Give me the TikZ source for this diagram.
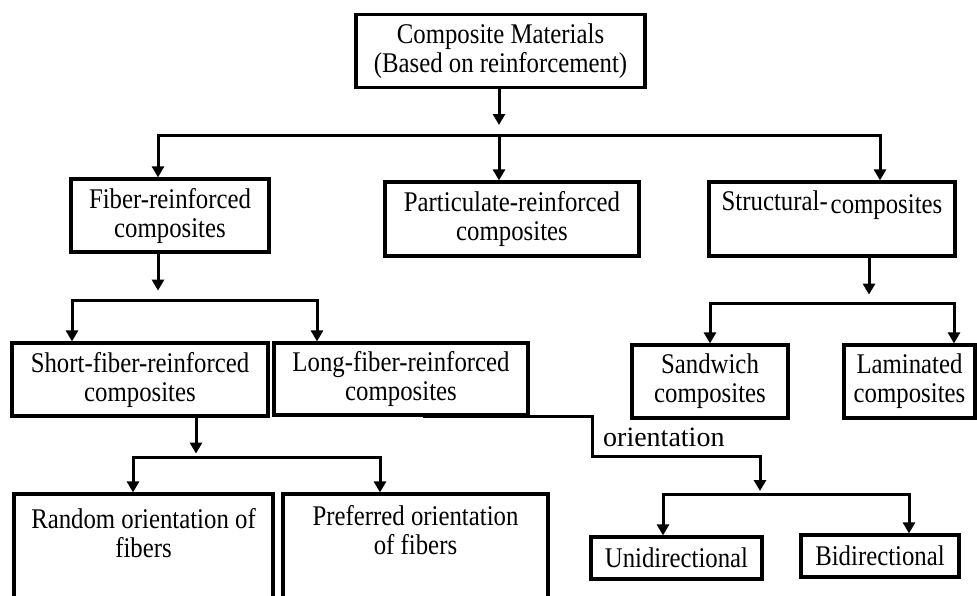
\documentclass[tikz,border=0pt]{standalone}
\usepackage{fontspec}
\setmainfont{Liberation Serif}
\newfontfamily\tallserif[FakeStretch=0.87]{Liberation Serif}
\usetikzlibrary{arrows.meta}
\begin{document}
\begin{tikzpicture}[x=1pt,y=-1pt,
  box/.style={draw=black, line width=3.2pt, rectangle, inner sep=0pt, align=center,
              font=\tallserif\fontsize{28.5}{29}\selectfont},
  conn/.style={line width=3pt, line join=miter},
  arr/.style={conn, -{Triangle[length=11pt,width=12pt]}},
  arrtwo/.style={conn, {Triangle[length=11pt,width=12pt]}-{Triangle[length=11pt,width=12pt]}},
  lbl/.style={inner sep=0pt, font=\fontsize{28}{30}\selectfont}
]
\useasboundingbox (0,0) rectangle (977,595);
\clip (0,0) rectangle (977,595);

% boxes
\node[box, minimum width=289pt, minimum height=73pt] (top) at (500.5,51)
  {Composite Materials\\(Based on reinforcement)};
\node[box, minimum width=198pt, minimum height=73pt] (fiber) at (170,215.5)
  {Fiber-reinforced\\composites};
\node[box, minimum width=254pt, minimum height=74pt] (partic) at (512,219)
  {Particulate-reinforced\\composites};
\node[box] (struct) at (832,219)
  {\parbox[c][74pt][t]{246pt}{\centering\vspace*{8.5pt}Structural-\hspace{3pt}\raisebox{-3pt}{composites}}};
\node[box, minimum width=256pt, minimum height=73pt] (short) at (140,379.5)
  {Short-fiber-reinforced\\composites};
\node[box, minimum width=254pt, minimum height=72pt] (long) at (401,379)
  {Long-fiber-reinforced\\composites};
\node[box, minimum width=156pt, minimum height=73pt] (sand) at (710,381.5)
  {Sandwich\\composites};
\node[box, minimum width=131pt, minimum height=73pt] (lam) at (909.5,381.5)
  {Laminated\\composites};
\node[box] (random) at (143.5,567)
  {\parbox[c][146pt][t]{259pt}{\centering\vspace*{14.5pt}Random orientation of\\fibers}};
\node[box] (pref) at (415.5,567)
  {\parbox[c][146pt][t]{265pt}{\centering\vspace*{11.5pt}Preferred orientation\\of fibers}};
\node[box, minimum width=171pt, minimum height=42pt] (uni) at (676.5,558) {Unidirectional};
\node[box, minimum width=158pt, minimum height=42pt] (bi) at (880,556) {Bidirectional};

\node[lbl, anchor=base west] (orient) at (603,446) {orientation};

% bus 1
\coordinate (b1l) at (158,135);
\coordinate (b1m) at (499,135);
\coordinate (b1r) at (880,135);
\draw[arr] (b1m |- top.south) -- (b1m |- 0,125);
\draw[arrtwo] (b1l |- fiber.north) -- (b1l) -- (b1r) -- (b1r |- struct.north);
\draw[arr] (b1m) -- (b1m |- partic.north);

% bus 2
\coordinate (b2l) at (72,300);
\coordinate (b2m) at (158,300);
\coordinate (b2r) at (317,300);
\draw[arr] (b2m |- fiber.south) -- ++(0,37);
\draw[arrtwo] (b2l |- short.north) -- (b2l) -- (b2r) -- (b2r |- long.north);

% bus 3
\coordinate (b3l) at (710,303);
\coordinate (b3m) at (869,303);
\coordinate (b3r) at (954,303);
\draw[arr] (b3m |- struct.south) -- ++(0,37);
\draw[arrtwo] (b3l |- sand.north) -- (b3l) -- (b3r) -- (b3r |- lam.north);

% bus 4
\coordinate (b4l) at (133,457);
\coordinate (b4m) at (196,457);
\coordinate (b4r) at (380,457);
\draw[arr] (b4m |- short.south) -- ++(0,36);
\draw[arrtwo] (b4l |- random.north) -- (b4l) -- (b4r) -- (b4r |- pref.north);

% bus 5
\coordinate (oc) at (592,456);
\coordinate (b5l) at (663,494);
\coordinate (b5m) at (760,494);
\coordinate (b5r) at (909,494);
\draw[arr] ([xshift=22pt]long.south) -| (oc) -- (oc -| b5m) -- ++(0,35);
\draw[arrtwo] (b5l |- uni.north) -- (b5l) -- (b5r) -- (b5r |- bi.north);
\end{tikzpicture}
\end{document}
